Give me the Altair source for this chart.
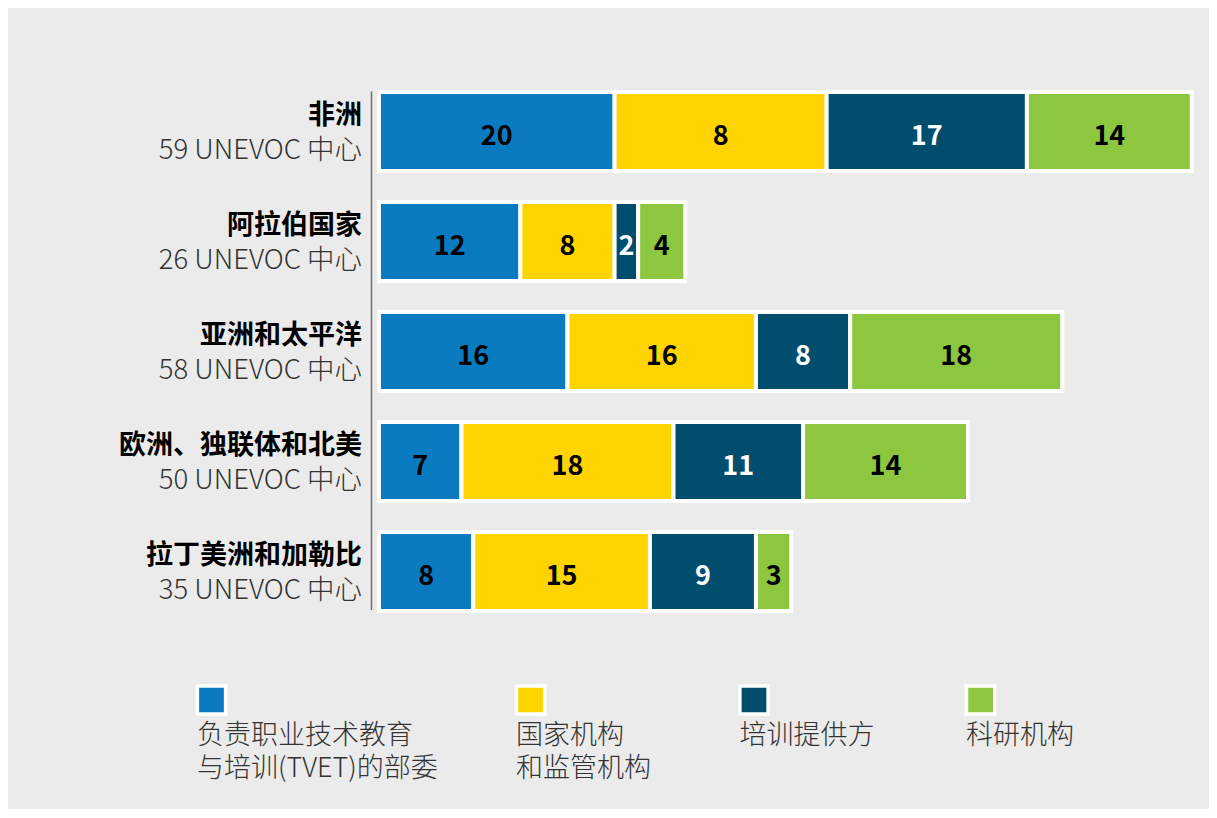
import altair as alt
import pandas as pd

FONT = "Noto Sans CJK SC"

regions = ["非洲", "阿拉伯国家", "亚洲和太平洋", "欧洲、独联体和北美", "拉丁美洲和加勒比"]
center_counts = [59, 26, 58, 50, 35]

categories = ["负责职业技术教育与培训(TVET)的部委", "国家机构和监管机构", "培训提供方", "科研机构"]
cat_line1 = ["负责职业技术教育", "国家机构", "培训提供方", "科研机构"]
cat_line2 = ["与培训(TVET)的部委", "和监管机构", "", ""]
colors = ["#0a7bc1", "#ffd400", "#014d6e", "#8dc63f"]
label_colors = ["#000000", "#000000", "#ffffff", "#000000"]

# labelled values
ministries = [20, 12, 16, 7, 8]
national = [8, 8, 16, 18, 15]
training = [17, 2, 8, 11, 9]
research = [14, 4, 18, 14, 3]
# bar lengths as drawn in the source (Africa's yellow segment is drawn as 18 wide)
national_drawn = [18, 8, 16, 18, 15]

series = [(ministries, ministries), (national, national_drawn), (training, training), (research, research)]

rows = []
for i, reg in enumerate(regions):
    start = 0
    for j, (lab, drawn) in enumerate(series):
        end = start + drawn[i]
        rows.append({
            "region": reg, "cat": categories[j], "label": str(lab[i]),
            "start": start, "end": end, "mid": (start + end) / 2,
            "tcolor": label_colors[j],
        })
        start = end
bars_df = pd.DataFrame(rows)

names_df = pd.DataFrame({
    "region": regions,
    "sub": [f"{c} UNEVOC 中心" for c in center_counts],
})

legend_df = pd.DataFrame({
    "cat": categories,
    "color": colors,
    "text": [a + ("\n" + b if b else "") for a, b in zip(cat_line1, cat_line2)],
    "sq_x": [203.5, 522.6, 746.0, 972.6],
})
legend_df["tx"] = legend_df["sq_x"] - 14.5

XMAX = 69
xscale = alt.Scale(domain=[0, XMAX], range=[371, 371 + XMAX * 11.78], nice=False, zero=False)
yscale = alt.Scale(domain=regions, range=[68.5, 618.5], paddingInner=0.2818, paddingOuter=0.1409)

bars = alt.Chart(bars_df).mark_rect(stroke="white", strokeWidth=4).encode(
    x=alt.X("start:Q", scale=xscale, axis=None),
    x2="end:Q",
    y=alt.Y("region:N", scale=yscale, axis=None, sort=regions),
    color=alt.Color("cat:N", scale=alt.Scale(domain=categories, range=colors), legend=None),
)

bar_text = alt.Chart(bars_df).mark_text(
    font=FONT, fontSize=27, fontWeight="bold", baseline="middle", align="center", dy=5
).encode(
    x=alt.X("mid:Q", scale=xscale, axis=None),
    y=alt.Y("region:N", scale=yscale, axis=None, sort=regions),
    text="label:N",
    color=alt.Color("tcolor:N", scale=None),
)

name_text = alt.Chart(names_df).mark_text(
    font=FONT, fontSize=27, fontWeight="bold", baseline="middle", align="right", dy=-15.5, color="#000000"
).encode(
    x=alt.value(354),
    y=alt.Y("region:N", scale=yscale, axis=None, sort=regions),
    text="region:N",
)

sub_text = alt.Chart(names_df).mark_text(
    font=FONT, fontSize=27.5, fontWeight=300, baseline="middle", align="right", dy=19, color="#333333"
).encode(
    x=alt.value(354),
    y=alt.Y("region:N", scale=yscale, axis=None, sort=regions),
    text="sub:N",
)

axis_line = alt.Chart(pd.DataFrame({"a": [0]})).mark_rule(color="#6e6e6e", strokeWidth=1.5).encode(
    x=alt.value(363.5), y=alt.value(83.5), y2=alt.value(602)
)

leg_sq = alt.Chart(legend_df).mark_square(size=795, stroke="white", strokeWidth=3.5, opacity=1, filled=True).encode(
    x=alt.X("sq_x:Q", scale=None, axis=None),
    y=alt.value(692),
    color=alt.Color("color:N", scale=None),
)

leg_text = alt.Chart(legend_df).mark_text(
    font=FONT, fontSize=27, fontWeight=300, baseline="alphabetic", align="left", color="#333333",
    lineBreak="\n", lineHeight=32.7,
).encode(
    x=alt.X("tx:Q", scale=None, axis=None),
    y=alt.value(736),
    text="text:N",
)

chart = alt.layer(
    axis_line, bars, bar_text, name_text, sub_text, leg_sq, leg_text
).resolve_scale(x="independent", y="independent", color="independent").properties(
    width=1201, height=801, background="#ebebeb", padding=0,
    autosize=alt.AutoSizeParams(type="none"),
).configure_view(strokeWidth=0)

chart.save("out.html", embed_options={"renderer": "svg", "actions": False})
